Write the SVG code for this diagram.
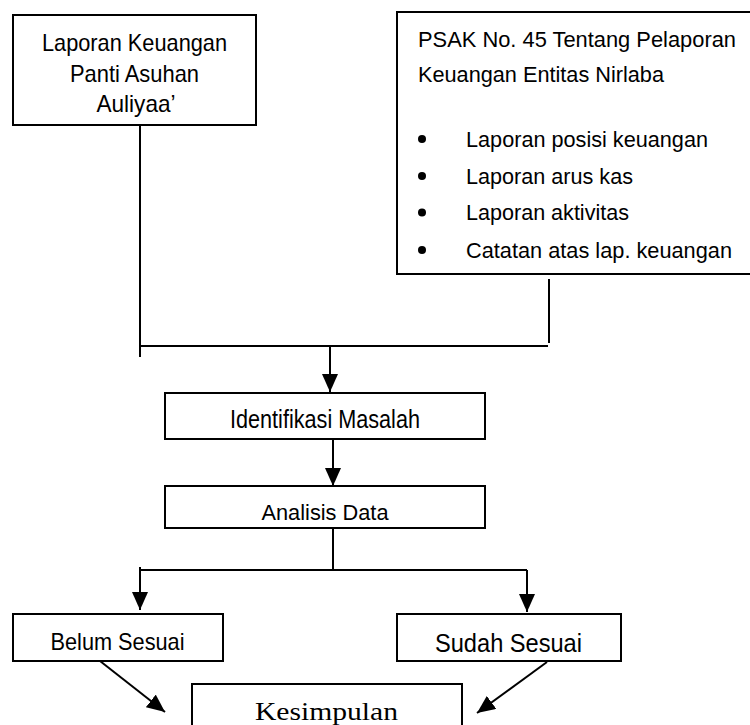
<svg xmlns="http://www.w3.org/2000/svg" width="750" height="725" viewBox="0 0 750 725">
<style>
.box{fill:#fff;stroke:#000;stroke-width:2}
.t{font-family:"Liberation Sans",Arial,sans-serif;fill:#000}
.c{text-anchor:middle}
.ln{fill:none;stroke:#000;stroke-width:2}
.serif{font-family:"Liberation Serif","Times New Roman",serif;fill:#000}
</style>
<defs>
<marker id="ah" markerUnits="userSpaceOnUse" markerWidth="18" markerHeight="16" refX="18" refY="8" orient="auto">
<path d="M0,0 L18,8 L0,16 z" fill="#000"/>
</marker>
</defs>
<rect width="750" height="725" fill="#fff"/>
<g id="connectors">
<path class="ln" d="M140,125 V357"/>
<path class="ln" d="M549,279 V343"/>
<path class="ln" d="M140,346 H548"/>
<path class="ln" d="M330,346 V392" marker-end="url(#ah)"/>
<path class="ln" d="M333,439 V486" marker-end="url(#ah)"/>
<path class="ln" d="M333,528 V570"/>
<path class="ln" d="M140,570 H527"/>
<path class="ln" d="M140,567 V610" marker-end="url(#ah)"/>
<path class="ln" d="M527,570 V612" marker-end="url(#ah)"/>
<path class="ln" d="M100,661 L165,712" marker-end="url(#ah)"/>
<path class="ln" d="M547,662 L477,713" marker-end="url(#ah)"/>
</g>
<g id="laporan-keuangan">
<rect class="box" x="13" y="15" width="243" height="110"/>
<text class="t c" x="134.5" y="51" font-size="24" textLength="185" lengthAdjust="spacingAndGlyphs">Laporan Keuangan</text>
<text class="t c" x="134.5" y="82" font-size="24" textLength="129" lengthAdjust="spacingAndGlyphs">Panti Asuhan</text>
<text class="t c" x="136" y="112" font-size="24" textLength="79" lengthAdjust="spacingAndGlyphs">Auliyaa’</text>
</g>
<g id="psak">
<rect class="box" x="397" y="12" width="360" height="262"/>
<text class="t" x="418" y="47" font-size="22" textLength="318" lengthAdjust="spacingAndGlyphs">PSAK No. 45 Tentang Pelaporan</text>
<text class="t" x="418" y="82" font-size="22" textLength="246" lengthAdjust="spacingAndGlyphs">Keuangan Entitas Nirlaba</text>
<circle cx="422" cy="139" r="4"/>
<circle cx="422" cy="176" r="4"/>
<circle cx="422" cy="212.5" r="4"/>
<circle cx="422" cy="250" r="4"/>
<text class="t" x="466" y="147" font-size="22" textLength="242" lengthAdjust="spacingAndGlyphs">Laporan posisi keuangan</text>
<text class="t" x="466" y="183.5" font-size="22" textLength="167" lengthAdjust="spacingAndGlyphs">Laporan arus kas</text>
<text class="t" x="466" y="220" font-size="22" textLength="163" lengthAdjust="spacingAndGlyphs">Laporan aktivitas</text>
<text class="t" x="466" y="257.5" font-size="22" textLength="266" lengthAdjust="spacingAndGlyphs">Catatan atas lap. keuangan</text>
</g>
<g id="identifikasi">
<rect class="box" x="165" y="393" width="320" height="46"/>
<text class="t c" x="325" y="428" font-size="25" textLength="190" lengthAdjust="spacingAndGlyphs">Identifikasi Masalah</text>
</g>
<g id="analisis">
<rect class="box" x="165" y="486" width="320" height="42"/>
<text class="t c" x="325" y="520" font-size="22" textLength="127" lengthAdjust="spacingAndGlyphs">Analisis Data</text>
</g>
<g id="belum">
<rect class="box" x="13" y="614" width="210" height="47"/>
<text class="t c" x="117.5" y="650" font-size="24" textLength="134" lengthAdjust="spacingAndGlyphs">Belum Sesuai</text>
</g>
<g id="sudah">
<rect class="box" x="397" y="614" width="224" height="47"/>
<text class="t c" x="508.5" y="652" font-size="26" textLength="147" lengthAdjust="spacingAndGlyphs">Sudah Sesuai</text>
</g>
<g id="kesimpulan">
<rect class="box" x="192" y="684" width="270" height="60"/>
<text class="serif c" x="326.5" y="720" font-size="26" textLength="143" lengthAdjust="spacingAndGlyphs">Kesimpulan</text>
</g>
</svg>
